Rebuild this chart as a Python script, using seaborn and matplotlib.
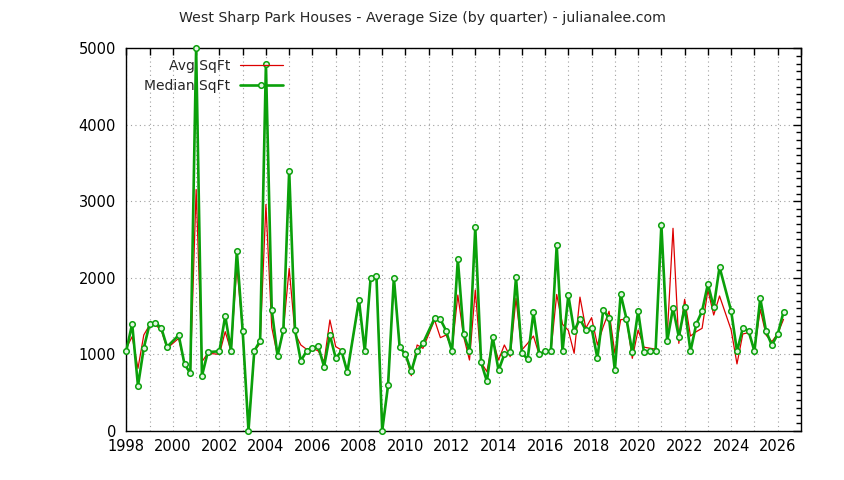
import matplotlib
matplotlib.use('Agg')
from matplotlib import pyplot as plt
from matplotlib.ticker import MultipleLocator, FuncFormatter
import seaborn as sns
import pandas as pd

# quarters with data (a few quarters have no sales)
quarters = ['1998Q1', '1998Q2', '1998Q3', '1998Q4',
            '1999Q1', '1999Q2', '1999Q3', '1999Q4',
            '2000Q2', '2000Q3', '2000Q4',
            '2001Q1', '2001Q2', '2001Q3',
            '2002Q1', '2002Q2', '2002Q3', '2002Q4',
            '2003Q1', '2003Q2', '2003Q3', '2003Q4',
            '2004Q1', '2004Q2', '2004Q3', '2004Q4',
            '2005Q1', '2005Q2', '2005Q3', '2005Q4',
            '2006Q1', '2006Q2', '2006Q3', '2006Q4',
            '2007Q1', '2007Q2', '2007Q3',
            '2008Q1', '2008Q2', '2008Q3', '2008Q4',
            '2009Q1', '2009Q2', '2009Q3', '2009Q4',
            '2010Q1', '2010Q2', '2010Q3', '2010Q4',
            '2011Q2', '2011Q3', '2011Q4',
            '2012Q1', '2012Q2', '2012Q3', '2012Q4',
            '2013Q1', '2013Q2', '2013Q3', '2013Q4',
            '2014Q1', '2014Q2', '2014Q3', '2014Q4',
            '2015Q1', '2015Q2', '2015Q3', '2015Q4',
            '2016Q1', '2016Q2', '2016Q3', '2016Q4',
            '2017Q1', '2017Q2', '2017Q3', '2017Q4',
            '2018Q1', '2018Q2', '2018Q3', '2018Q4',
            '2019Q1', '2019Q2', '2019Q3', '2019Q4',
            '2020Q1', '2020Q2', '2020Q3', '2020Q4',
            '2021Q1', '2021Q2', '2021Q3', '2021Q4',
            '2022Q1', '2022Q2', '2022Q3', '2022Q4',
            '2023Q1', '2023Q2', '2023Q3',
            '2024Q1', '2024Q2', '2024Q3', '2024Q4',
            '2025Q1', '2025Q2', '2025Q3', '2025Q4',
            '2026Q1', '2026Q2']

median_sqft = [1044, 1397, 583, 1080,
               1392, 1408, 1343, 1094,
               1247, 868, 750,
               5000, 714, 1025,
               1037, 1500, 1040, 2350,
               1304, 0, 1042, 1173,
               4800, 1579, 976, 1317,
               3400, 1317, 911, 1040,
               1083, 1100, 835, 1250,
               946, 1040, 763,
               1705, 1036, 1993, 2022,
               0, 590, 2000, 1089,
               998, 774, 1036, 1140,
               1468, 1455, 1302,
               1036, 2240, 1260, 1036,
               2658, 891, 643, 1221,
               786, 998, 1022, 2004,
               1020, 931, 1546, 996,
               1036, 1036, 2423, 1036,
               1770, 1302, 1459, 1312,
               1339, 944, 1577, 1470,
               787, 1784, 1459, 1023,
               1563, 1025, 1036, 1038,
               2688, 1167, 1605, 1223,
               1616, 1036, 1393, 1563,
               1917, 1614, 2138,
               1563, 1036, 1339, 1302,
               1036, 1731, 1299, 1116,
               1260, 1550]

avg_sqft = [1080, 1228, 813, 1250,
            1380, 1380, 1315, 1075,
            1206, 866, 750,
            3153, 900, 1010,
            997, 1293, 1040, 2149,
            1302, 0, 1040, 1140,
            2956, 1350, 975, 1315,
            2121, 1271, 1119, 1062,
            1079, 1040, 900, 1446,
            1097, 1053, 765,
            1702, 1036, 1991, 2022,
            0, 589, 1995, 1089,
            996, 717, 1119, 1075,
            1446, 1215, 1249,
            1060, 1772, 1228, 922,
            1838, 891, 770, 1184,
            922, 1119, 966, 1729,
            1053, 1140, 1236, 988,
            1036, 1036, 1780, 1390,
            1310, 1010, 1745, 1337,
            1476, 1119, 1358, 1560,
            1010, 1450, 1457, 944,
            1315, 1090, 1077, 1064,
            2600, 1230, 2645, 1140,
            1716, 1236, 1293, 1337,
            1838, 1511, 1760,
            1315, 871, 1263, 1280,
            1053, 1585, 1249, 1162,
            1267, 1454]

df = pd.DataFrame({'quarter': quarters, 'Avg SqFt': avg_sqft,
                   'Median SqFt': median_sqft})
# decimal year for each quarter
df['year'] = df['quarter'].str[:4].astype(int) + (df['quarter'].str[5].astype(int) - 1) / 4

sns.set_style('white')
plt.rcParams['font.family'] = ['DejaVu Sans']
plt.rcParams['font.size'] = 10

fig = plt.figure(figsize=(8.44, 4.8), dpi=100)
ax = fig.add_axes([0.1497, 0.1031, 0.7993, 0.7963])

sns.lineplot(data=df, x='year', y='Median SqFt', ax=ax, color='#0aa00a',
             linewidth=1.9, marker='o', markersize=4.0, markerfacecolor='#e2f5e2',
             markeredgecolor='#0aa00a', markeredgewidth=1.1, label='Median SqFt',
             zorder=3, clip_on=False)
sns.lineplot(data=df, x='year', y='Avg SqFt', ax=ax, color='#dd0000',
             linewidth=0.9, label='Avg SqFt', zorder=2)

ax.set_xlim(1998, 2027)
ax.set_ylim(0, 5000)
ax.xaxis.set_major_locator(MultipleLocator(1))
ax.xaxis.set_major_formatter(FuncFormatter(lambda v, p: '%d' % v if int(round(v)) % 2 == 0 else ''))
ax.yaxis.set_major_locator(MultipleLocator(1000))
ax.yaxis.set_minor_locator(MultipleLocator(100))
ax.tick_params(axis='both', which='both', direction='in', top=True, right=True,
               labelsize=10.5, colors='black', width=1)
ax.tick_params(axis='x', which='major', length=5, pad=6)
ax.tick_params(axis='y', which='major', length=6, pad=7.5)
ax.tick_params(axis='y', which='minor', length=3.5)
ax.grid(True, which='major', color='#a0a0a0', linestyle=(0, (1, 3)), linewidth=0.8)
ax.set_axisbelow(True)
for s in ax.spines.values():
    s.set_color('black')
    s.set_linewidth(1)
ax.set_xlabel('')
ax.set_ylabel('')

# gnuplot style key: text first, sample after
h, l = ax.get_legend_handles_labels()
leg = ax.legend(h[::-1], l[::-1], loc='upper left', bbox_to_anchor=(0.026, 0.972),
                frameon=False, markerfirst=False, handlelength=3.1, handletextpad=0.7,
                labelspacing=0.45, borderpad=0, borderaxespad=0, numpoints=1, fontsize=10)

fig.suptitle('West Sharp Park Houses - Average Size (by quarter) - julianalee.com',
             x=0.5, y=0.962, va='center', fontsize=10.2)

fig.savefig('out.png', dpi=100)
